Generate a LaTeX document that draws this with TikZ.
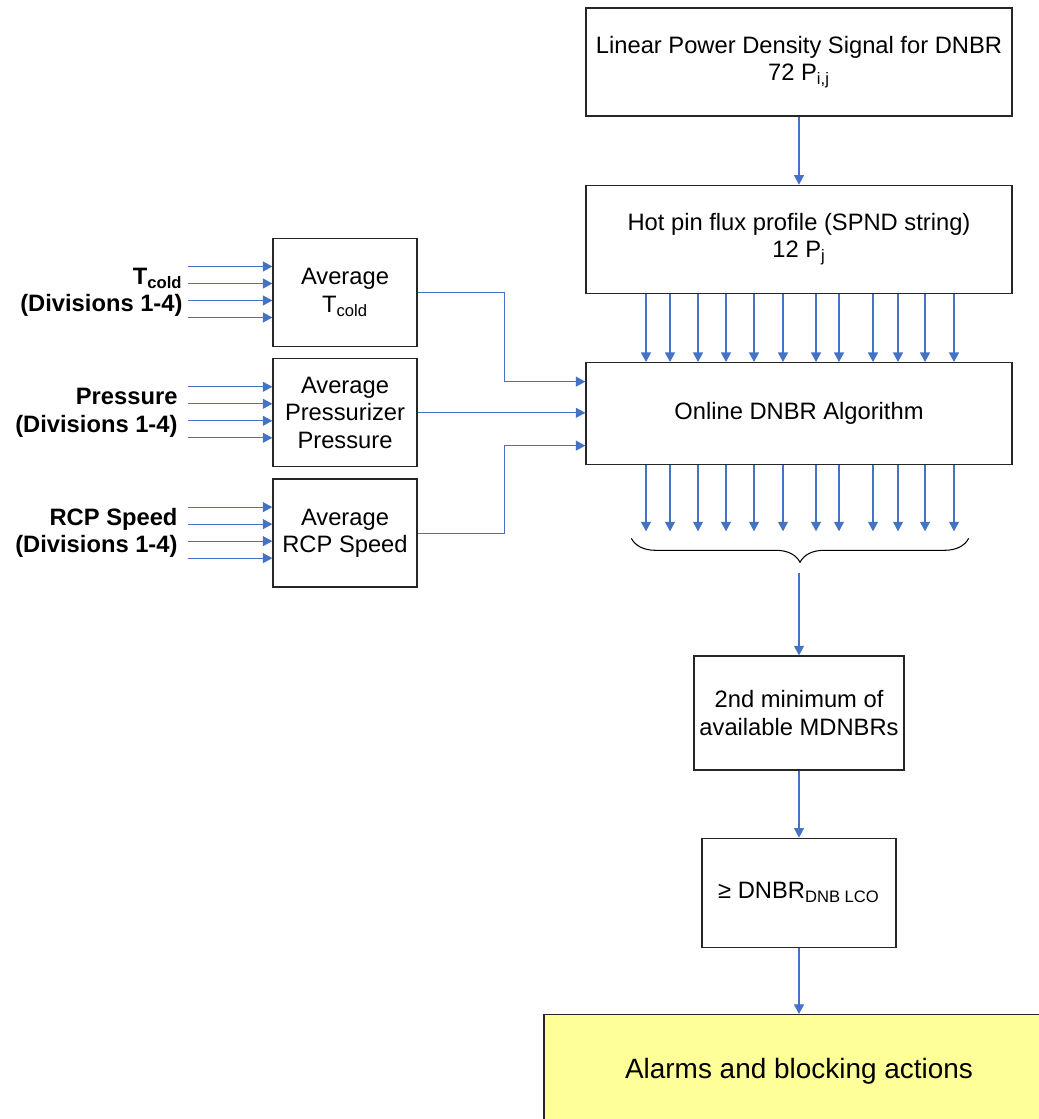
\documentclass[tikz,border=0pt]{standalone}
\usepackage{fontspec}
\setmainfont{Liberation Sans}
\usetikzlibrary{arrows.meta, positioning, calc, decorations.pathreplacing}
\definecolor{FlowBlue}{HTML}{4472C4}
\definecolor{AlarmYellow}{HTML}{FFFF99}
\newcommand{\dgfont}{\fontsize{13.5}{15.6}\selectfont}
\tikzset{
  blk/.style={draw=black!85, line width=0.75pt, align=center, inner sep=2pt, fill=white},
  avg/.style={blk, minimum width=2.88cm, minimum height=2.16cm},
  inlbl/.style={align=right, font=\dgfont\bfseries, inner sep=2pt},
  flow/.style={-{Triangle[length=1.9mm, width=2mm]}, line width=0.6pt, draw=FlowBlue},
  brc/.style={decorate, decoration={brace, mirror, amplitude=4.8mm}, line width=0.6pt},
}
\begin{document}
\begin{tikzpicture}[font=\dgfont]
  \useasboundingbox (0,0) rectangle (20.76,-22.38);
  % main chain on the right
  \node[blk, minimum width=8.52cm, minimum height=2.16cm] (lpd) at (15.98,-1.24)
    {Linear Power Density Signal for DNBR\\72 P\textsubscript{i,j}};
  \node[blk, minimum width=8.52cm, minimum height=2.16cm, below=1.36cm of lpd] (hot)
    {Hot pin flux profile (SPND string)\\12 P\textsubscript{j}};
  \node[blk, minimum width=8.52cm, minimum height=2.04cm, below=1.36cm of hot] (alg)
    {Online DNBR Algorithm};
  \node[blk, minimum width=4.2cm, minimum height=2.28cm, below=3.8cm of alg] (mdnbr)
    {2nd minimum of\\available MDNBRs};
  \node[blk, minimum width=3.88cm, minimum height=2.18cm, below=1.34cm of mdnbr] (lco)
    {≥ DNBR\textsubscript{DNB LCO}};
  \node[blk, fill=AlarmYellow, minimum width=10.2cm, minimum height=2.28cm,
    below=1.32cm of lco, font=\fontsize{15.9}{18}\selectfont] (alarm)
    {Alarms and blocking actions};

  % averaging blocks on the left
  \node[avg] (avgT) at (6.9,-5.85) {Average\\T\textsubscript{cold}};
  \node[avg, below=0.22cm of avgT] (avgP) {Average\\Pressurizer\\Pressure};
  \node[avg, below=0.22cm of avgP] (avgR) {Average\\RCP Speed};
  \node[inlbl, left=1.72cm of avgT] (tcold) {T\textsubscript{cold}\\(Divisions 1-4)};
  \node[inlbl, left=1.82cm of avgP] (press) {Pressure\\(Divisions 1-4)};
  \node[inlbl, left=1.82cm of avgR] (rcp) {RCP Speed\\(Divisions 1-4)};

  % four divisions into each block
  \foreach \n in {avgT, avgP, avgR}
    \foreach \dy in {0.52, 0.18, -0.16, -0.50}
      \draw[flow] ([shift={(-1.68,\dy)}]\n.west) -- ([yshift=\dy cm]\n.west);

  \draw[flow] (avgT.east) -- ++(1.74,0) |- ([yshift=0.64cm]alg.west);
  \draw[flow] (avgP.east) -- (avgP.east -| alg.west);
  \draw[flow] (avgR.east) -- ++(1.74,0) |- ([yshift=-0.64cm]alg.west);

  \draw[flow] (lpd) -- (hot);
  \coordinate (arrend) at ([yshift=-1.32cm]alg.south);
  \foreach \x in {12.92, 13.40, 13.96, 14.52, 15.08, 15.66, 16.32, 16.78, 17.46, 17.96, 18.50, 19.08} {
    \draw[flow] (\x,0 |- hot.south) -- (\x,0 |- alg.north);
    \draw[flow] (\x,0 |- alg.south) -- (\x,0 |- arrend);
  }

  % brace collecting the 12 outputs
  \coordinate (bl) at ([shift={(0.92,-1.46)}]alg.south west);
  \coordinate (br) at ([shift={(-0.88,-1.46)}]alg.south east);
  \draw[brc] (bl) -- (br);
  \coordinate (btip) at ($(bl)!0.5!(br)+(0,-0.7)$);
  \draw[flow] (mdnbr.north |- btip) -- (mdnbr);
  \draw[flow] (mdnbr) -- (lco);
  \draw[flow] (lco) -- (alarm);
\end{tikzpicture}
\end{document}
